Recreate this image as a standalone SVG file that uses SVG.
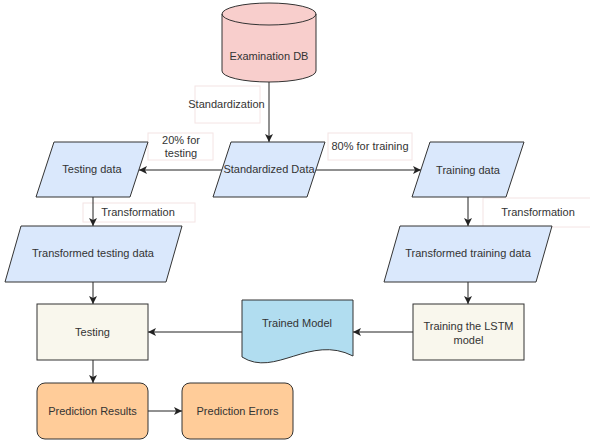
<svg xmlns="http://www.w3.org/2000/svg" width="590" height="443" viewBox="0 0 590 443">
<defs>
<marker id="arr" markerUnits="userSpaceOnUse" markerWidth="10" markerHeight="10" refX="8" refY="4" orient="auto">
<path d="M0,0 L8,4 L0,8 L2,4 Z" fill="#222"/>
</marker>
<style>
text{font-family:"Liberation Sans",Arial,sans-serif;font-size:11px;fill:#333;text-anchor:middle;dominant-baseline:central}
.n{stroke:#333;stroke-width:1}
.para{fill:#dae8fc}
.proc{fill:#f9f7ed}
.res{fill:#ffcc99}
.lbl{fill:#fff;stroke:#f4e4e4;stroke-width:1}
.e{fill:none;stroke:#222;stroke-width:1;marker-end:url(#arr)}
</style>
</defs>
<rect width="590" height="443" fill="#fff"/>

<g id="labels">
<rect class="lbl" x="195" y="86" width="65" height="37"/>
<text x="226.5" y="104">Standardization</text>
<rect class="lbl" x="148" y="133" width="65" height="27"/>
<text x="181" y="140">20% for</text>
<text x="181" y="153">testing</text>
<rect class="lbl" x="328" y="133" width="84" height="27"/>
<text x="370" y="146">80% for training</text>
<rect class="lbl" x="83" y="203" width="112" height="19"/>
<text x="138" y="212">Transformation</text>
<rect class="lbl" x="483" y="198" width="108" height="29"/>
<text x="538" y="212">Transformation</text>
</g>

<g id="connectors">
<path class="e" d="M269,82 V142"/>
<path class="e" d="M222,170 H139"/>
<path class="e" d="M316,170 H421"/>
<path class="e" d="M93,197 V226"/>
<path class="e" d="M468,197 V226"/>
<path class="e" d="M93,282 V304"/>
<path class="e" d="M468,282 V304"/>
<path class="e" d="M413,332 H353"/>
<path class="e" d="M242,332 H148"/>
<path class="e" d="M93,360 V383"/>
<path class="e" d="M148,411 H182"/>
</g>

<g id="examination-db">
<path class="n" fill="#f8cecc" d="M222,14 A47,11 0 0 1 316,14 V71 A47,11 0 0 1 222,71 Z"/>
<path class="n" fill="none" d="M222,14 A47,11 0 0 0 316,14"/>
<text x="269" y="56">Examination DB</text>
</g>

<g id="standardized-data">
<polygon class="n para" points="231,142 325,142 307,197 213,197"/>
<text x="269" y="169">Standardized Data</text>
</g>

<g id="testing-data">
<polygon class="n para" points="54,142 148,142 130,197 36,197"/>
<text x="92" y="169">Testing data</text>
</g>

<g id="training-data">
<polygon class="n para" points="430,142 524,142 506,197 412,197"/>
<text x="468" y="170">Training data</text>
</g>

<g id="transformed-testing-data">
<polygon class="n para" points="21,226 182,226 166,282 5,282"/>
<text x="93" y="253">Transformed testing data</text>
</g>

<g id="transformed-training-data">
<polygon class="n para" points="400,226 552,226 536,282 384,282"/>
<text x="468" y="253">Transformed training data</text>
</g>

<g id="testing">
<rect class="n proc" x="37" y="304" width="111" height="56"/>
<text x="92.5" y="332">Testing</text>
</g>

<g id="trained-model">
<path class="n" fill="#b1ddf0" d="M242,300 H353 V356 C310,334 275,378 242,357 Z"/>
<text x="297" y="323">Trained Model</text>
</g>

<g id="training-lstm">
<rect class="n proc" x="413" y="304" width="111" height="56"/>
<text x="468.5" y="326">Training the LSTM</text>
<text x="468.5" y="340">model</text>
</g>

<g id="prediction-results">
<rect class="n res" x="37" y="383" width="111" height="56" rx="8"/>
<text x="92.5" y="411">Prediction Results</text>
</g>

<g id="prediction-errors">
<rect class="n res" x="182" y="383" width="111" height="56" rx="8"/>
<text x="237.5" y="411">Prediction Errors</text>
</g>
</svg>
